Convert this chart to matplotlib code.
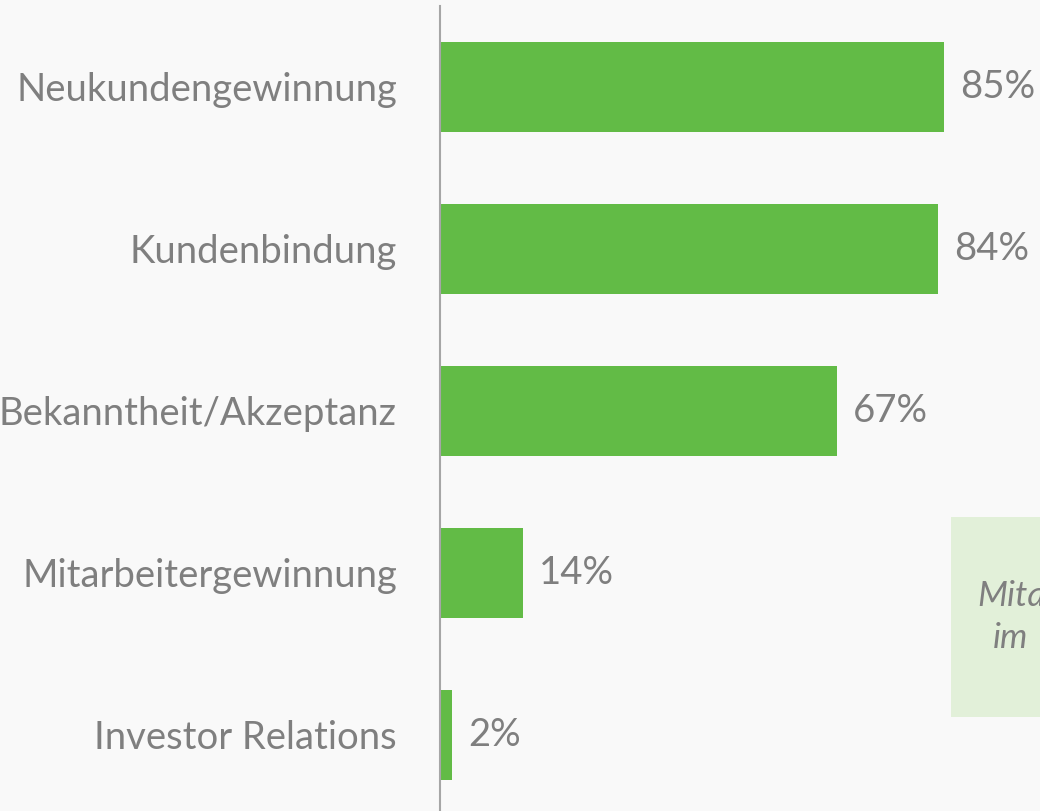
import matplotlib
matplotlib.use("Agg")
import matplotlib.pyplot as plt
from matplotlib.patches import Rectangle

categories = ["Neukundengewinnung", "Kundenbindung", "Bekanntheit/Akzeptanz",
              "Mitarbeitergewinnung", "Investor Relations"]
values = [85, 84, 67, 14, 2]
value_labels = ["85%", "84%", "67%", "14%", "2%"]

W, H = 1040, 811
bg = "#f9f9f9"
green = "#62bb46"
gray = "#7f7f7f"

fig = plt.figure(figsize=(W / 100, H / 100), dpi=100, facecolor=bg)
ax = fig.add_axes([440 / W, 0, 600 / W, 805 / H])
ax.set_facecolor(bg)

ypos = list(range(len(categories)))
ax.barh(ypos, values, height=0.56, color=green, zorder=2)
ax.set_xlim(0, 600 / 5.93)
ax.set_ylim(4.47, -0.5)

for s in ["top", "right", "bottom"]:
    ax.spines[s].set_visible(False)
ax.spines["left"].set_color("#a6a6a6")
ax.spines["left"].set_linewidth(1.5)
ax.spines["left"].set_zorder(3)
ax.set_xticks([])
ax.set_yticks(ypos)
ax.set_yticklabels(categories, fontsize=27.5, color=gray, family="Lato")
ax.tick_params(axis="y", length=0, pad=31)

for y, v, lab in zip(ypos, values, value_labels):
    ax.annotate(lab, (v, y), xytext=(16, 0), textcoords="offset pixels",
                va="center", ha="left", fontsize=27.5, color=gray, family="Lato")

# partially visible note box on the right
box = Rectangle((951 / W, 1 - 717 / H), 200 / W, 200 / H, transform=fig.transFigure,
                facecolor="#e2f0d9", edgecolor="none", zorder=1)
fig.patches.append(box)
fig.text(977 / W, 1 - 606 / H, "Mitarbeiter", fontsize=25, style="italic", color=gray,
         family="Lato", ha="left", va="baseline")
fig.text(993 / W, 1 - 648 / H, "im", fontsize=25, style="italic", color=gray,
         family="Lato", ha="left", va="baseline")

fig.savefig("out.png", dpi=100, facecolor=bg)
